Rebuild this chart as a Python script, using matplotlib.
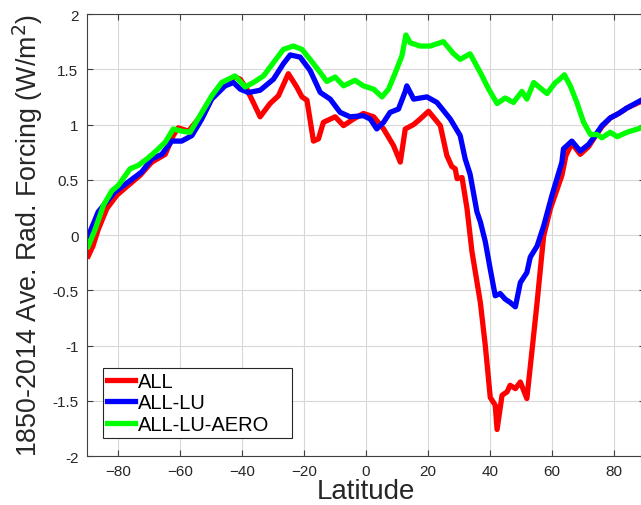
import matplotlib
matplotlib.use("Agg")
import matplotlib.pyplot as plt

# values (latitude, W/m^2)
lat_all = [-89.5, -88, -86.3, -83.5, -80.3, -76.6, -72.8, -69, -64.7, -62.1, -60.5, -57.2,
           -54, -49.7, -46.5, -42.2, -40.5, -38.4, -36.3, -34.1, -30.9, -28.2, -25, -22.3,
           -20.6, -19, -16.9, -15.3, -13.7, -9.9, -7.2, -4, -0.8, 2.5, 5.7, 8.9, 11.1,
           12.7, 15.4, 17.5, 20.2, 24, 26.1, 27.7, 28.8, 29.4, 31, 32.6, 34.2, 36.9, 38.5,
           40.1, 41.7, 42.3, 43.9, 45.5, 46.5, 48.2, 49.8, 51.9, 53.5, 55.2, 57.3, 59.5,
           63.2, 64.5, 66.4, 69.1, 71.8, 73.4, 76.1, 78.8, 81.5, 84.2, 88.8, 90]
val_all = [-0.19, -0.1, 0.05, 0.24, 0.36, 0.45, 0.54, 0.66, 0.73, 0.9, 0.97, 0.94,
           1.05, 1.24, 1.36, 1.43, 1.41, 1.32, 1.2, 1.07, 1.19, 1.26, 1.46, 1.34,
           1.25, 1.22, 0.85, 0.87, 1.02, 1.07, 0.99, 1.05, 1.1, 1.07, 0.96, 0.81, 0.66,
           0.96, 1.0, 1.05, 1.12, 0.99, 0.72, 0.62, 0.6, 0.51, 0.52, 0.24, -0.15, -0.61, -1.0,
           -1.47, -1.54, -1.76, -1.45, -1.42, -1.36, -1.39, -1.33, -1.48, -1.06, -0.61, -0.01, 0.24,
           0.54, 0.72, 0.83, 0.73, 0.8, 0.87, 0.98, 1.06, 1.1, 1.15, 1.21, 1.23]

lat_lu = [-89.5, -86.3, -80.9, -76.6, -72.3, -69, -65.8, -62.6, -59.4, -56.1, -52.9,
          -49.7, -45.4, -42.7, -40.5, -37.9, -34.1, -29.8, -26.6, -24.4, -21.2, -18,
          -14.7, -11.5, -8.3, -5.1, -0.8, 1.4, 3.5, 5.7, 7.8, 10.5, 12.7, 13.2, 15.4,
          19.7, 22.9, 27.2, 30.4, 32, 33.6, 35.8, 36.9, 38.5, 40.1, 41.7, 43.3, 44.9,
          46.5, 48.2, 49.8, 51.9, 53, 55.2, 57.3, 60, 63.2, 63.7, 66.4, 69.1, 71.8, 73.4,
          76.1, 78.8, 81.5, 84.2, 88.8, 90]
val_lu = [-0.01, 0.21, 0.39, 0.48, 0.57, 0.69, 0.73, 0.85, 0.85, 0.9, 1.05,
          1.23, 1.35, 1.38, 1.32, 1.29, 1.31, 1.41, 1.55, 1.63, 1.61, 1.49,
          1.29, 1.23, 1.11, 1.07, 1.08, 1.05, 0.96, 1.02, 1.11, 1.14, 1.3, 1.35, 1.23,
          1.25, 1.2, 1.05, 0.9, 0.69, 0.55, 0.21, 0.12, -0.06, -0.31, -0.55, -0.53, -0.58,
          -0.61, -0.65, -0.43, -0.34, -0.2, -0.1, 0.08, 0.36, 0.66, 0.78, 0.85, 0.76, 0.82, 0.88,
          0.99, 1.06, 1.1, 1.15, 1.22, 1.24]

lat_aero = [-89.5, -87.3, -84.6, -81.9, -79.8, -76, -73.4, -70.1, -66.9, -64.7, -62.1,
            -59.4, -56.7, -53.5, -49.7, -46.5, -42.2, -38.9, -36.3, -33, -29.8, -26.6,
            -23.4, -20.6, -18, -14.7, -12.6, -9.9, -7.2, -3.5, -0.8, 2.5, 5.2, 7.3, 9.5,
            11.6, 12.9, 14.3, 17.5, 20.7, 25, 28.3, 30.4, 33.6, 36.9, 39.6, 42.3, 44.9,
            47.6, 50.3, 51.9, 54.1, 58.4, 61.1, 62.1, 64, 65.9, 68, 70.2, 72.4, 74.5,
            76.1, 78.8, 81, 84.2, 88.8, 90]
val_aero = [-0.1, 0.05, 0.27, 0.4, 0.45, 0.6, 0.63, 0.7, 0.78, 0.84, 0.96,
            0.94, 0.93, 1.08, 1.26, 1.38, 1.44, 1.34, 1.38, 1.44, 1.56, 1.68,
            1.71, 1.68, 1.59, 1.47, 1.39, 1.43, 1.35, 1.4, 1.35, 1.32, 1.25, 1.32, 1.47,
            1.62, 1.81, 1.74, 1.71, 1.71, 1.75, 1.64, 1.59, 1.64, 1.47, 1.32, 1.19, 1.24,
            1.2, 1.3, 1.23, 1.38, 1.28, 1.38, 1.4, 1.45, 1.35, 1.2, 1.02, 0.91, 0.91,
            0.88, 0.93, 0.89, 0.93, 0.97, 0.97]

xticks = [-80, -60, -40, -20, 0, 20, 40, 60, 80]
yticks = [-2, -1.5, -1, -0.5, 0, 0.5, 1, 1.5, 2]
ytick_labels = ["-2", "-1.5", "-1", "-0.5", "0", "0.5", "1", "1.5", "2"]

plt.rcParams["font.family"] = ["Liberation Sans", "DejaVu Sans"]

fig = plt.figure(figsize=(6.41, 5.06), dpi=100)
ax = fig.add_axes([0.1353, 0.0968, 0.871, 0.8735])

ax.plot(lat_all, val_all, color="#ff0000", lw=3.8, label="ALL")
ax.plot(lat_lu, val_lu, color="#0000ff", lw=3.8, label="ALL-LU")
ax.plot(lat_aero, val_aero, color="#00ff00", lw=3.8, label="ALL-LU-AERO")

ax.set_xlim(-90, 90)
ax.set_ylim(-2, 2)
ax.set_xticks(xticks)
ax.set_yticks(yticks)
ax.set_yticklabels(ytick_labels)
ax.grid(True, color="#d8d8d8", lw=0.8)
ax.set_axisbelow(True)
ax.tick_params(direction="in", top=True, right=True, labelsize=11, length=4,
               color="#404040", labelcolor="#262626", pad=6)
for sp in ax.spines.values():
    sp.set_color("#404040")

ax.set_xlabel("Latitude", fontsize=20, color="#262626", labelpad=0)
ax.set_ylabel("1850-2014 Ave. Rad. Forcing (W/m$^2$)", fontsize=19.3, color="#262626", labelpad=5)

# legend box stretched to the width MATLAB gives it
leg = ax.legend(loc="lower left", bbox_to_anchor=(0.029, 0.041, 0.3385, 0.1), mode="expand",
                fontsize=14.5, handlelength=1.4, handletextpad=0.15, labelspacing=0.12,
                borderpad=0.2, borderaxespad=0, fancybox=False, framealpha=1)
leg.get_frame().set_edgecolor("#262626")
leg.get_frame().set_linewidth(0.8)

fig.savefig("out.png", dpi=100)
